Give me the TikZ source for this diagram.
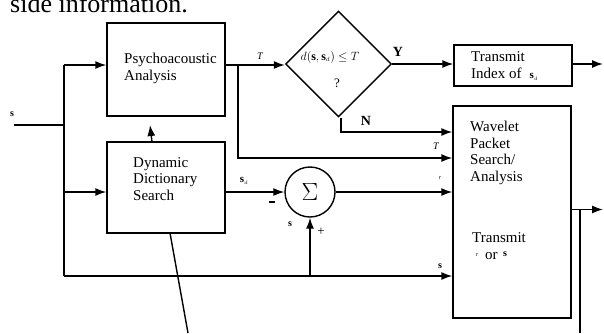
\documentclass[tikz,border=0pt]{standalone}
\usepackage{fontspec}
\setmainfont{Liberation Serif}
\usetikzlibrary{shapes.geometric,arrows.meta}
\tikzset{
  blk/.style={draw, line width=1.4pt, inner sep=0pt, rectangle},
  txt/.style={font=\fontsize{15}{16.5}\selectfont, inner sep=0pt, align=left, anchor=west},
  sm/.style={font=\fontsize{10}{11}\selectfont, inner sep=0pt},
  wire/.style={line width=1.4pt},
  arr/.style={wire, -{Latex[length=11pt,width=8pt]}},
}
\begin{document}
\begin{tikzpicture}[x=1pt,y=-1pt]
\useasboundingbox (0,0) rectangle (604,333);
\clip (0,0) rectangle (604,333);
% top cut text
\node[anchor=base west, inner sep=0pt, font=\fontsize{26}{28}\selectfont] (top) at (10,12) {side information.};
% blocks
\node[blk, minimum width=118pt, minimum height=93pt] (psych) at (166,69.5) {};
\node[txt] (psycht) at (124,68.5) {Psychoacoustic\\Analysis};
\node[blk, minimum width=118pt, minimum height=91pt] (dds) at (166,187.5) {};
\node[txt] (ddst) at (133,179) {Dynamic\\Dictionary\\Search};
\node[blk, minimum width=118pt, minimum height=212pt] (wav) at (512,212) {};
\node[txt] (wavt1) at (470,153) {Wavelet\\Packet\\Search/\\Analysis};
\node[txt] (wavt2) at (472,238) {Transmit};
\node[sm, font=\itshape\fontsize{6}{7}\selectfont] (wr) at (477,255) {r};
\node[txt, anchor=base west] (wor) at (485,259) {or};
\node[sm, font=\bfseries\fontsize{10}{11}\selectfont] (ws) at (505,254) {s};
\node[blk, minimum width=118pt, minimum height=41pt] (tix) at (513,65.5) {};
\node[txt] (tixt) at (471,57) {Transmit};
\node[txt] (tixt2) at (471,74.5) {Index of\hspace{8pt}\fontsize{11}{12}\selectfont$\mathbf{s}_{\scriptscriptstyle d}$};
\node[draw, diamond, line width=1.4pt, minimum width=106pt, minimum height=106pt, inner sep=0pt] (dia) at (338.5,64) {};
\node[font=\fontsize{12}{13}\selectfont, inner sep=0pt] (diat) at (330,57) {$d\bigl(\mathbf{s},\mathbf{s}_{\scriptscriptstyle d}\bigr)\le T$};
\node[font=\fontsize{13}{14}\selectfont, inner sep=0pt] (diaq) at (337,83) {?};
\node[draw, circle, line width=1.4pt, minimum size=50pt, inner sep=0pt] (sum) at (310,192) {\fontsize{38}{40}\selectfont$\Sigma$};
% coordinates
\coordinate (in) at (14,125);
\coordinate (jin) at (64,125);
\coordinate (jtop) at (64,65);
\coordinate (jmid) at (64,192);
\coordinate (jbot) at (64,276);
\coordinate (po) at (225,65);
\coordinate (jT) at (238,65);
\coordinate (jT2) at (238,158);
\coordinate (nb) at (341,132);
\coordinate (pa) at (150,125);
\coordinate (ds) at (152,142);
\coordinate (sb) at (310,276);
\coordinate (out1) at (603,64);
\coordinate (wo) at (571,209.5);
\coordinate (jo) at (580,209.5);
\coordinate (out2) at (603,209.5);
\coordinate (ob) at (580,333);
\coordinate (dbt) at (170,233);
\coordinate (dbb) at (188,333);
% wires
\draw[wire] (in) -- (jin);
\draw[wire] (jtop) -- (jbot);
\draw[arr] (jtop) -- (jtop -| psych.west);
\draw[arr] (jmid) -- (jmid -| dds.west);
\draw[arr] (jbot) -- (jbot -| wav.west);
\draw[arr] (ds) -- (pa);
\draw[arr] (po) -- (po -| dia.west);
\draw[arr] (jT) -- (jT2) -- (jT2 -| wav.west);
\draw[arr] (dia.east) -- (dia.east -| tix.west);
\draw[arr] (tix.east |- out1) -- (out1);
\draw[arr] (nb |- dia.south) -- (nb) -- (nb -| wav.west);
\draw[arr] (dds.east |- sum.west) -- (sum.west);
\draw[arr] (sum.east) -- (sum.east -| wav.west);
\draw[arr] (sb) -- (sum.south);
\draw[arr] (wo) -- (out2);
\draw[wire] (jo) -- (ob);
\draw[wire] (dbt) -- (dbb);
% labels
\node[sm, font=\bfseries\fontsize{10}{11}\selectfont] (ls) at (12,114) {s};
\node[sm, font=\itshape\fontsize{10}{11}\selectfont] (lT1) at (260,56) {T};
\node[sm, font=\itshape\fontsize{10}{11}\selectfont] (lT2) at (436,146) {T};
\node[sm, font=\bfseries\fontsize{14}{15}\selectfont] (lY) at (398,52) {Y};
\node[sm, font=\bfseries\fontsize{14}{15}\selectfont] (lN) at (366,121) {N};
\node[sm, font=\fontsize{11}{12}\selectfont] (lsd) at (244,181) {$\mathbf{s}_{\scriptscriptstyle d}$};
\draw[line width=2pt] (269,202) -- (275,202);
\node[sm, font=\fontsize{13}{14}\selectfont] (lplus) at (321,232) {+};
\node[sm, font=\bfseries\fontsize{10}{11}\selectfont] (lss) at (290,224) {s};
\node[sm, font=\itshape\fontsize{6}{7}\selectfont] (lr) at (440,178) {r};
\node[sm, font=\bfseries\fontsize{10}{11}\selectfont] (lsb) at (440,266) {s};
\end{tikzpicture}
\end{document}
